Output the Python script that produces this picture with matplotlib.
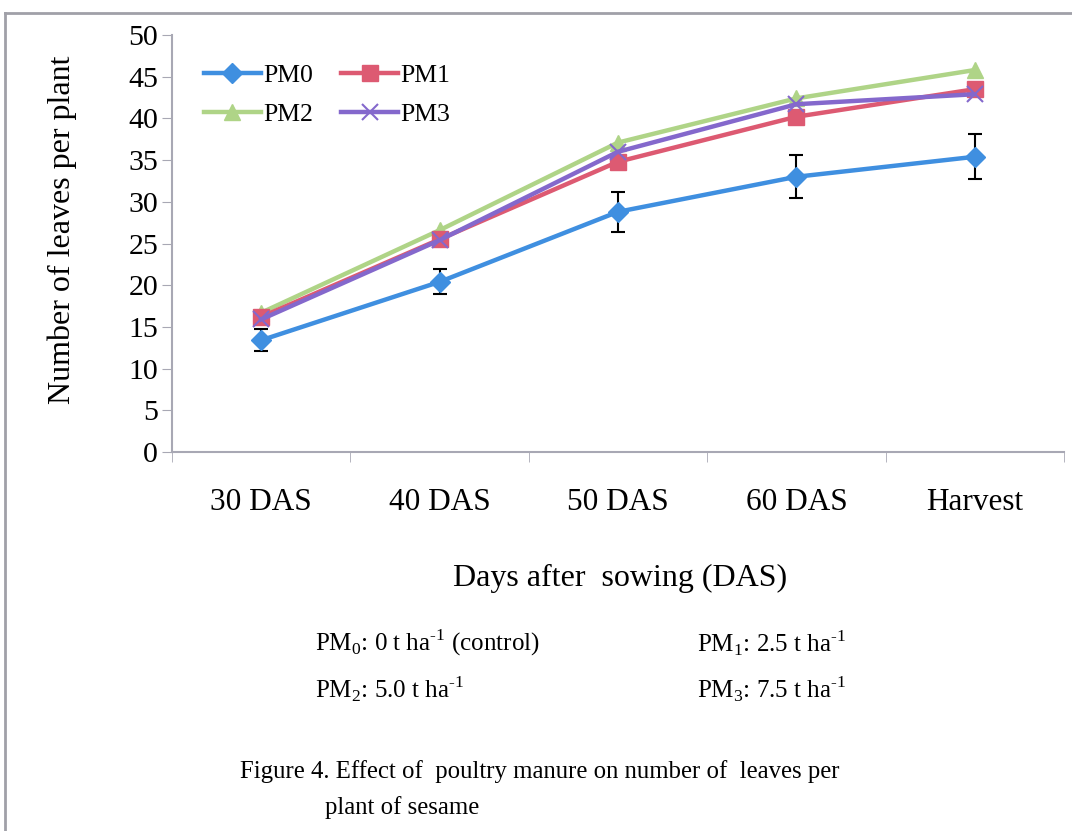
import numpy as np
import matplotlib
matplotlib.use("Agg")
import matplotlib.pyplot as plt
from matplotlib.lines import Line2D

plt.rcParams['font.family'] = ['Liberation Serif', 'DejaVu Serif']
plt.rcParams['mathtext.fontset'] = 'custom'
plt.rcParams['mathtext.rm'] = 'Liberation Serif'

# datos
etapas = ["30 DAS", "40 DAS", "50 DAS", "60 DAS", "Harvest"]
pm0 = [13.4, 20.4, 28.8, 33.0, 35.4]
pm0_err = [1.3, 1.5, 2.4, 2.6, 2.7]
pm1 = [16.2, 25.5, 34.8, 40.2, 43.5]
pm2 = [16.7, 26.6, 37.1, 42.4, 45.8]
pm3 = [15.9, 25.4, 36.0, 41.7, 42.9]

c0, c1, c2, c3 = '#3f8fe0', '#dd5a72', '#afd487', '#8468cc'

fig = plt.figure(figsize=(10.72, 8.31), dpi=100)
ax = fig.add_axes([172/1072, 1-452/831, (1064-172)/1072, (452-35)/831])

x = np.arange(len(etapas))
ax.plot(x, pm1, color=c1, lw=3.2, marker='s', ms=11, zorder=3)
ax.plot(x, pm3, color=c3, lw=3.2, marker='x', ms=11, mew=1.5, zorder=3)
ax.plot(x, pm2, color=c2, lw=3.2, marker='^', ms=12, zorder=2)
ax.errorbar(x, pm0, yerr=pm0_err, color=c0, lw=3.2, marker='D', ms=10,
            ecolor='black', elinewidth=1.5, capsize=5, capthick=1.5, zorder=4)

ax.set_xlim(-0.5, len(etapas) - 0.5)
ax.set_ylim(0, 50)
ax.set_yticks(np.arange(0, 51, 5))
ax.set_xticks(x)
ax.set_xticklabels(etapas)
ax.set_xticks(np.arange(-0.5, len(etapas)), minor=True)
ax.tick_params(axis='x', which='major', length=0, pad=26, labelsize=22.5)
ax.tick_params(axis='x', which='minor', length=7, color='#a8a8b4', direction='out')
ax.tick_params(axis='y', length=7, color='#a8a8b4', labelsize=21.5, pad=3)
for s in ['top', 'right']:
    ax.spines[s].set_visible(False)
for s in ['left', 'bottom']:
    ax.spines[s].set_color('#a8a8b4')
    ax.spines[s].set_linewidth(1.5)

ax.set_ylabel("Number of leaves per plant", fontsize=23)
ax.yaxis.set_label_coords(-0.107, 0.532)

# leyenda en dos columnas: PM0 PM1 / PM2 PM3 (sin barras de error)
handles = [
    Line2D([], [], color=c0, lw=3.2, marker='D', ms=10),
    Line2D([], [], color=c2, lw=3.2, marker='^', ms=12),
    Line2D([], [], color=c1, lw=3.2, marker='s', ms=11),
    Line2D([], [], color=c3, lw=3.2, marker='x', ms=11, mew=1.5),
]
ax.legend(handles, ['PM0', 'PM2', 'PM1', 'PM3'], ncol=2, frameon=False,
          loc='upper left', bbox_to_anchor=(0.01, 0.985), fontsize=18.5,
          handlelength=2.2, handletextpad=0.1, columnspacing=1.1, labelspacing=0.6)

fig.text(620/1072, 1-578/831, "Days after  sowing (DAS)", fontsize=23, ha='center', va='center')

fs = 18
fig.text(315/1072, 1-643/831, r"PM$_0$: 0 t ha$^{\text{-}1}$ (control)", fontsize=fs, va='center')
fig.text(697/1072, 1-643/831, r"PM$_1$: 2.5 t ha$^{\text{-}1}$", fontsize=fs, va='center')
fig.text(315/1072, 1-689/831, r"PM$_2$: 5.0 t ha$^{\text{-}1}$", fontsize=fs, va='center')
fig.text(697/1072, 1-689/831, r"PM$_3$: 7.5 t ha$^{\text{-}1}$", fontsize=fs, va='center')

fig.text(240/1072, 1-772/831, "Figure 4. Effect of  poultry manure on number of  leaves per",
         fontsize=17.8, va='center')
fig.text(325/1072, 1-808/831, "plant of sesame", fontsize=17.8, va='center')

# marco alrededor de la figura
fig.add_artist(Line2D([5/1072, 1], [1-13/831, 1-13/831], color='#a0a0a8', lw=2))
fig.add_artist(Line2D([5/1072, 5/1072], [0, 1-13/831], color='#a0a0a8', lw=2))

fig.savefig("out.png", dpi=100)
